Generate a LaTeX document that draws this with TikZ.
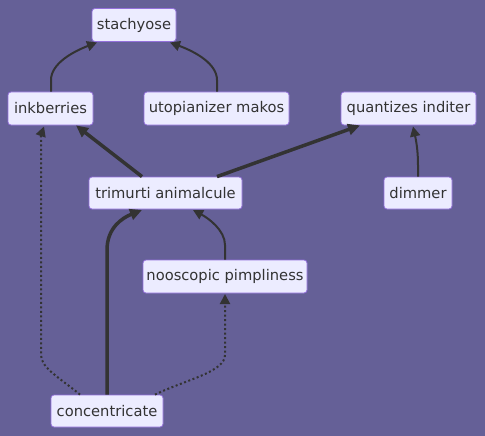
\documentclass[tikz,border=0pt]{standalone}
\usepackage{fontspec}
\setmainfont{DejaVu Sans}
\usetikzlibrary{arrows.meta}
\definecolor{bgc}{HTML}{656097}
\definecolor{nfill}{HTML}{ECECFF}
\definecolor{nborder}{HTML}{9370DB}
\definecolor{ink}{HTML}{333333}
\tikzset{
  box/.style={draw=nborder, fill=nfill, line width=0.8pt, rounded corners=3pt,
    text=ink, font=\fontsize{14.7}{17}\selectfont, inner sep=0pt, anchor=center},
  edge/.style={draw=ink, line width=2pt, -{Triangle[length=10pt,width=10pt]}},
  thick edge/.style={draw=ink, line width=3.5pt, -{Triangle[length=12pt,width=11pt]}},
  dot edge/.style={draw=ink, line width=2pt, dash pattern=on 2pt off 2.5pt, -{Triangle[length=10pt,width=10pt]}}
}
\begin{document}
\begin{tikzpicture}[x=1pt,y=-1pt]
\fill[bgc] (0,0) rectangle (485,436);
\useasboundingbox (0,0) rectangle (485,436);
\node[box, minimum width=84pt, minimum height=33pt] (st) at (134,25) {stachyose};
\node[box, minimum width=85pt, minimum height=33pt] (ik) at (50.5,108.5) {inkberries};
\node[box, minimum width=145pt, minimum height=33pt] (ut) at (216.5,108.5) {utopianizer makos};
\node[box, minimum width=135pt, minimum height=33pt] (qi) at (408.5,108.5) {quantizes inditer};
\node[box, minimum width=153pt, minimum height=32pt] (tr) at (165.5,193) {trimurti animalcule};
\node[box, minimum width=68pt, minimum height=32pt] (dm) at (418,193) {dimmer};
\node[box, minimum width=164pt, minimum height=33pt] (np) at (225,276.5) {nooscopic pimpliness};
\node[box, minimum width=112pt, minimum height=32pt] (cc) at (107,411) {concentricate};

\draw[edge] (ik.north -| 51,0) -- (51,80) .. controls (51,64) and (72,52) .. (97,42.5);
\draw[edge] (ut.north -| 217,0) -- (217,80) .. controls (217,64) and (196,52) .. (170,42.5);
\draw[thick edge] (tr.north -| 142,0) -- (ik.south -| 76,0);
\draw[thick edge] (tr.north -| 217,0) -- (qi.south -| 360,0);
\draw[edge] (dm.north -| 418,0) -- (418,165) .. controls (418,150) and (416,140) .. (413,126.5);
\draw[thick edge] (cc.north -| 107,0) -- (107,250) .. controls (107,228) and (122,218) .. (142,210);
\draw[edge] (np.north -| 225,0) -- (225,245) .. controls (225,230) and (208,218) .. (193,210);
\draw[dot edge] (cc.north -| 80,0) .. controls (60,378) and (41,368) .. (41,355) -- (41,140) .. controls (41,135) .. (44,126.5);
\draw[dot edge] (cc.north -| 155,0) .. controls (185,380) and (225,372) .. (225,355) -- (225,294);
\end{tikzpicture}
\end{document}
